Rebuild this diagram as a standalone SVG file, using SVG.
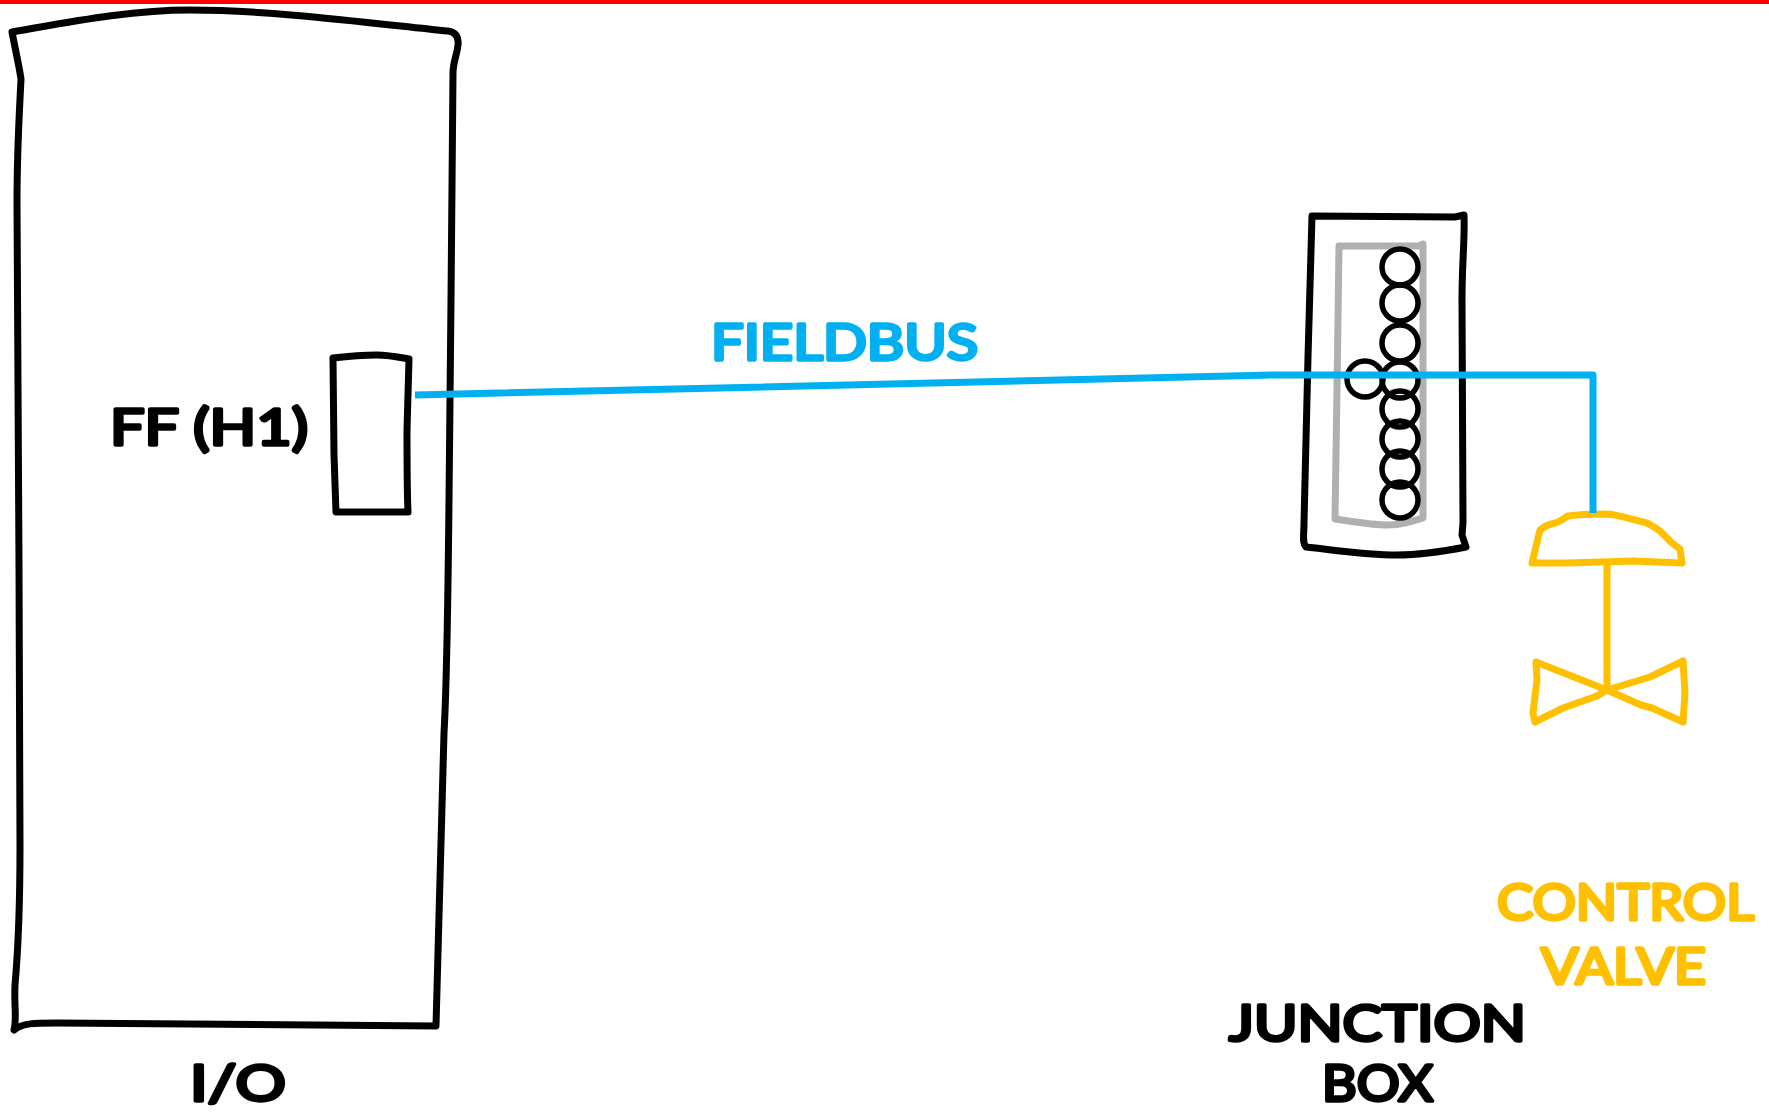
<svg xmlns="http://www.w3.org/2000/svg" width="1769" height="1112" viewBox="0 0 1769 1112">
<style>
.s{fill:none;stroke-linejoin:round;stroke-linecap:round}
.k{stroke:#000;stroke-width:7}
.g{stroke:#b0b0b0;stroke-width:7}
.y{stroke:#FFC000;stroke-width:7}
.b{fill:none;stroke:#00B0F0;stroke-width:7;stroke-linejoin:round}
.c{fill:none;stroke:#000;stroke-width:5.5}
text{font-family:"Lato","Open Sans","DejaVu Sans",sans-serif;font-size:50px;font-weight:400;stroke-width:3.5px;stroke-linejoin:round;text-anchor:start}
.tk{fill:#000;stroke:#000}
.ty{fill:#FFC000;stroke:#FFC000}
.tb{fill:#00B0F0;stroke:#00B0F0}
</style>
<rect width="1769" height="1112" fill="#fff"/>
<rect id="top-rule" x="0" y="0" width="1769" height="4" fill="#FF0000"/>
<g id="io-cabinet">
<path class="s k" d="M12 32 C70 22 130 10 190 10 C270 10 370 23 448 31 C456 32 459 37 458 45 C457 55 453 62 453 73 L451 300 L449 500 C448 600 447 680 444 733 L436 1026 L56 1023 C35 1023 22 1023 14 1030 C17 1020 14 1005 15 985 C19 940 20 900 20 846 L19 564 L17 203 C17 150 19 120 21 79 C19 65 15 48 12 32 Z"/>
<text class="tk" x="190" y="1101" textLength="96" lengthAdjust="spacingAndGlyphs">I/O</text>
</g>
<g id="ff-h1-card">
<path class="s k" d="M333 358 C350 356 365 355 377 355 C388 355 398 357 409 359 L407 430 C407 465 407 490 408 512 L336 512 L334 455 Z"/>
<text class="tk" x="110" y="445" textLength="198" lengthAdjust="spacingAndGlyphs">FF (H1)</text>
</g>
<g id="junction-box">
<path class="s k" d="M1312 216 L1455 217 L1464 215 C1465 240 1462 260 1462 300 L1463 523 L1462 535 L1466 547 C1440 552 1415 555 1397 555 C1365 555 1335 550 1306 547 C1302 543 1304 535 1304 523 L1308 357 Z"/>
<path class="s g" d="M1339 246 L1418 246 L1423 244 L1423 518 C1410 522 1400 525 1388 525 C1370 525 1350 521 1335 519 L1337 390 Z"/>
<circle class="c" cx="1400" cy="267" r="18"/>
<circle class="c" cx="1400" cy="303" r="18"/>
<circle class="c" cx="1400" cy="343" r="18"/>
<circle class="c" cx="1400" cy="380" r="18"/>
<circle class="c" cx="1365" cy="379" r="18"/>
<circle class="c" cx="1400" cy="409" r="18"/>
<circle class="c" cx="1400" cy="439" r="18"/>
<circle class="c" cx="1400" cy="469" r="18"/>
<circle class="c" cx="1400" cy="500" r="18"/>
<text class="tk" x="1229" y="1041" textLength="297" lengthAdjust="spacingAndGlyphs">JUNCTION</text>
<text class="tk" x="1322" y="1101" textLength="111" lengthAdjust="spacingAndGlyphs">BOX</text>
</g>
<g id="control-valve">
<path class="s y" d="M1532 563 L1540 530 C1545 526 1550 524 1555 523 C1560 522 1564 518 1568 516 C1582 514 1597 514 1607 514 C1620 515 1633 520 1647 523 C1652 526 1655 527 1660 531 L1672 543 L1680 549 L1682 563 L1633 561 L1567 563 Z"/>
<path class="s y" d="M1607 563 L1607 690"/>
<path class="s y" d="M1536 662 L1607 690 L1650 677 L1683 661 L1685 693 L1683 722 L1652 708 L1641 705 L1607 690 L1597 696 L1563 708 L1535 722 L1533 713 L1537 680 Z"/>
<text class="ty" x="1497" y="920" textLength="257" lengthAdjust="spacingAndGlyphs">CONTROL</text>
<text class="ty" x="1541" y="984" textLength="165" lengthAdjust="spacingAndGlyphs">VALVE</text>
</g>
<g id="connectors">
<path id="fieldbus" class="b" d="M415 395 L1275 375 L1593 375 L1593 513"/>
<text class="tb" x="711" y="360" textLength="267" lengthAdjust="spacingAndGlyphs">FIELDBUS</text>
</g>
</svg>
